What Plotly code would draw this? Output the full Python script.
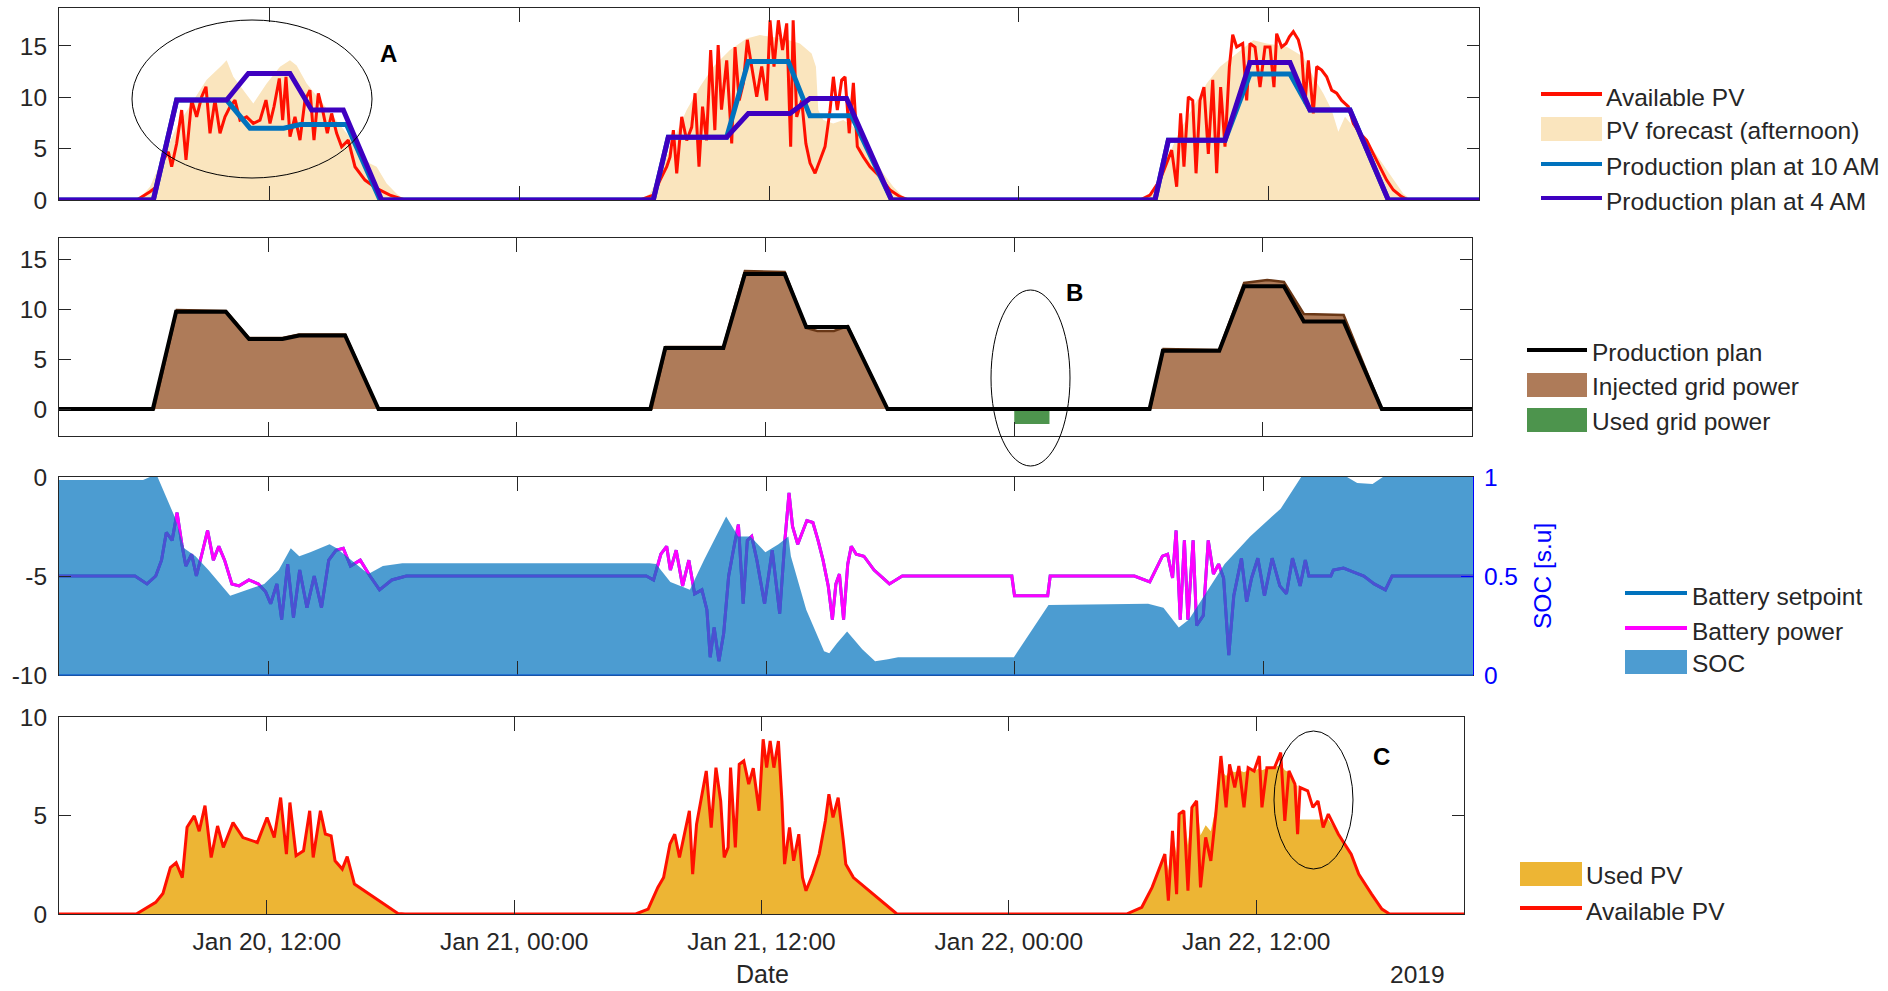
import pandas as pd
import plotly.graph_objects as go

W, H = 1888, 991
BASE = pd.Timestamp("2019-01-20 00:00")


def at(hours):
    return [BASE + pd.Timedelta(hours=h) for h in hours]


def px(x):
    return x / W


def py(y):
    return 1 - y / H


T_START, T_END = 1.917, 70.083
TICK_HOURS = [12, 24, 36, 48, 60]
TICK_TEXT = ["Jan 20, 12:00", "Jan 21, 00:00", "Jan 21, 12:00", "Jan 22, 00:00", "Jan 22, 12:00"]

# ---------------- Panel 1: PV, forecast and production plans ----------------
pv_avail_t = [1.9, 5.65, 6.285, 6.605, 6.925, 7.165, 7.325, 7.565, 7.805, 8.013, 8.285, 8.525,
              8.765, 8.973, 9.165, 9.405, 9.645, 9.885, 10.125, 10.365, 10.605, 10.925, 11.245,
              11.565, 11.853, 12.045, 12.237, 12.493, 12.653, 12.813, 13.005, 13.245, 13.485,
              13.725, 13.965, 14.157, 14.365, 14.605, 14.797, 15.005, 15.245, 15.485, 15.805,
              16.125, 16.605, 17.165, 17.805, 18.525,
              29.81, 30.45, 30.77, 31.09, 31.25, 31.41, 31.57, 31.81, 32.05, 32.29, 32.45, 32.64,
              32.81, 33.0, 33.2, 33.4, 33.56, 33.72, 33.97, 34.21, 34.37, 34.57, 34.77, 34.96,
              35.17, 35.41, 35.65, 35.89, 36.05, 36.24, 36.45, 36.65, 36.85, 37.04, 37.16, 37.33,
              37.57, 37.77, 37.97, 38.21, 38.45, 38.69, 38.93, 39.09, 39.28, 39.49, 39.65, 39.85,
              40.05, 40.24, 40.53, 40.85, 41.33, 41.81, 42.29, 42.69,
              53.81, 54.29, 54.77, 55.09, 55.33, 55.57, 55.76, 55.92, 56.13, 56.34, 56.5, 56.69,
              56.88, 57.09, 57.3, 57.49, 57.68, 57.89, 58.1, 58.26, 58.45, 58.74, 58.93, 59.09,
              59.33, 59.57, 59.81, 60.05, 60.24, 60.37, 60.61, 60.82, 60.98, 61.17, 61.41, 61.57,
              61.73, 61.89, 62.13, 62.29, 62.53, 62.77, 63.01, 63.25, 63.49, 63.81, 64.05, 64.37,
              64.69, 65.01, 65.33, 65.65, 65.97, 66.37, 66.69, 70.1]
pv_avail_v = [0, 0, 0.8, 1.29, 3.9, 4.7, 3.24, 5.5, 8.76, 3.9, 9.73, 8.1,
              10.05, 11.03, 6.5, 9.73, 6.5, 8.1, 9.08, 9.73, 7.78, 8.1, 7.46,
              7.78, 9.73, 7.46, 9.08, 11.84, 7.78, 12.0, 6.16, 8.1, 5.83,
              9.73, 10.7, 5.83, 10.38, 8.43, 6.5, 8.43, 6.5, 5.18, 5.83,
              3.24, 1.94, 1.13, 0.48, 0,
              0, 0.47, 1.94, 3.24, 4.2, 6.8, 2.6, 8.1, 5.8, 7.1, 10.4, 3.24,
              9.1, 5.8, 14.6, 6.8, 15.1, 8.8, 13.6, 5.5, 14.9, 9.7, 11.4, 15.6,
              12.97, 10.05, 13.0, 9.7, 17.5, 13.0, 17.5, 14.6, 17.2, 5.2, 17.5, 8.1,
              9.7, 5.5, 3.6, 2.6, 3.9, 5.2, 8.75, 12.0, 8.75, 11.7, 12.0, 6.5,
              11.4, 5.2, 4.2, 3.24, 2.26, 0.97, 0.32, 0,
              0, 0.47, 1.94, 3.56, 4.86, 1.29, 8.43, 3.24, 10.05, 9.7, 2.6, 9.7,
              11.0, 4.5, 11.7, 2.6, 11.0, 5.2, 13.0, 16.1, 14.9, 15.25, 9.7, 15.25,
              14.9, 11.0, 14.9, 14.9, 11.0, 16.2, 14.9, 15.25, 15.9, 16.4, 15.6, 14.3,
              9.4, 13.6, 8.43, 13.0, 12.65, 12.0, 10.7, 10.4, 9.7, 9.1, 7.45, 6.5,
              5.8, 4.5, 3.24, 1.94, 0.97, 0.32, 0, 0]

pv_forecast_t = [1.9, 5.725, 6.285, 6.925, 7.565, 8.365, 9.005, 9.725, 9.965, 10.285, 10.765,
                 11.245, 11.885, 12.525, 13.005, 13.325, 13.805, 14.445, 15.085, 15.725, 16.365,
                 16.845, 17.165, 17.645, 18.125, 18.525,
                 29.805, 30.285, 30.765, 31.405, 32.045, 32.685, 33.325, 34.125, 34.925, 35.565,
                 36.685, 37.485, 38.045, 38.253, 38.365, 38.605, 39.085, 39.565, 40.045, 40.525,
                 41.005, 41.485, 41.965, 42.365, 42.685,
                 53.97, 54.45, 55.09, 55.73, 56.37, 57.01, 57.65, 58.45, 59.25, 59.89, 60.85,
                 61.65, 62.13, 62.61, 63.01, 63.33, 63.65, 64.05, 64.69, 65.33, 65.97, 66.45,
                 66.85, 70.1]
pv_forecast_v = [0, 0, 1.3, 4.2, 7.1, 9.7, 11.7, 13.1, 13.6, 12.0, 10.7,
                 9.4, 11.35, 12.97, 13.6, 13.1, 11.35, 9.73, 8.1, 6.5, 4.54,
                 3.56, 3.24, 1.6, 0.6, 0,
                 0, 0.6, 2.6, 5.83, 8.76, 11.03, 12.97, 14.6, 15.74, 16.06,
                 15.74, 15.25, 14.27, 12.97, 8.76, 7.78, 7.46, 7.78, 7.13, 5.83,
                 4.21, 2.6, 1.29, 0.48, 0,
                 0, 0.8, 3.9, 6.8, 9.08, 11.35, 12.97, 14.27, 15.57, 15.25, 14.92,
                 13.95, 12.0, 10.38, 8.76, 6.65, 8.1, 7.13, 5.83, 3.9, 1.94, 0.6,
                 0, 0]

plan_4am_t = [1.9, 6.445, 7.565, 9.965, 11.005, 13.005, 14.045, 15.565, 17.405,
              30.445, 31.165, 33.965, 35.005, 37.005, 37.965, 39.725, 41.885,
              54.53, 55.17, 57.89, 59.09, 61.01, 61.97, 63.89, 65.73, 70.1]
plan_4am_v = [0, 0, 9.73, 9.73, 12.33, 12.33, 8.76, 8.76, 0,
              0, 6.1, 6.1, 8.43, 8.43, 9.89, 9.89, 0,
              0, 5.83, 5.83, 13.4, 13.4, 8.76, 8.76, 0, 0]

plan_10am_t = [1.9, 6.445, 7.565, 9.965, 11.085, 12.7, 13.5, 15.72, 17.33,
               30.445, 31.165, 33.965, 35.005, 36.925, 37.965, 39.965, 41.885,
               54.53, 55.17, 57.89, 59.09, 61.01, 61.97, 63.89, 65.73, 70.1]
plan_10am_v = [0, 0, 9.73, 9.73, 7.0, 7.0, 7.35, 7.35, 0,
               0, 6.1, 6.1, 13.5, 13.5, 8.2, 8.2, 0,
               0, 5.83, 5.83, 12.27, 12.27, 8.76, 8.76, 0, 0]

# ---------------- Panel 2: grid exchange ----------------
injected_t = [1.9, 6.5, 7.6, 9.965, 11.085, 12.7, 13.5, 15.72, 17.33,
              30.5, 31.2, 33.965, 35.005, 36.925, 37.965, 38.5, 39.3, 39.965, 41.885,
              54.55, 55.2, 57.89, 59.09, 60.2, 61.01, 61.97, 63.89, 65.73, 70.1]
injected_v = [0, 0, 9.9, 9.8, 7.1, 7.1, 7.45, 7.45, 0,
              0, 6.2, 6.2, 13.8, 13.7, 8.1, 7.8, 7.8, 8.3, 0,
              0, 6.0, 5.9, 12.6, 12.9, 12.7, 9.5, 9.4, 0, 0]

used_grid_t = [48.0, 48.0, 49.7, 49.7]
used_grid_v = [0, -1.5, -1.5, 0]

# ---------------- Panel 3: battery ----------------
bat_power_t = [1.88, 5.58, 6.16, 6.58, 6.86, 7.09, 7.37, 7.61, 7.84, 8.03, 8.31, 8.54, 8.85,
               9.08, 9.36, 9.62, 9.90, 10.25, 10.6, 11.07, 11.53, 11.88, 12.12, 12.42, 12.65,
               12.94, 13.22, 13.52, 13.87, 14.22, 14.57, 14.92, 15.27, 15.62, 15.97, 16.44,
               16.91, 17.37, 17.96, 18.66,
               30.23, 30.58, 30.93, 31.21, 31.39, 31.67, 31.98, 32.28, 32.56, 32.91, 33.15,
               33.31, 33.5, 33.73, 33.96, 34.2, 34.48, 34.67, 34.9, 35.1, 35.31, 35.56, 35.93,
               36.3, 36.66, 36.91, 37.11, 37.28, 37.53, 37.77, 37.97, 38.26, 38.51, 38.75,
               39.0, 39.2, 39.37, 39.54, 39.74, 39.94, 40.11, 40.35, 40.72, 41.21, 41.95,
               42.57, 47.85, 47.98, 49.58, 49.7,
               53.76, 54.5, 55.11, 55.36, 55.6, 55.77, 55.97, 56.17, 56.34, 56.59, 56.76,
               57.08, 57.32, 57.57, 57.82, 58.06, 58.31, 58.55, 58.92, 59.17, 59.41, 59.71,
               60.03, 60.4, 60.77, 61.09, 61.38, 61.75, 62.0, 62.17, 63.23, 63.35, 63.84,
               64.33, 64.82, 65.32, 65.86, 66.18, 70.1]
bat_power_v = [-5.0, -5.0, -5.4, -5.0, -4.2, -2.8, -3.2, -1.8, -3.4, -4.5, -3.9, -5.0, -3.7,
               -2.7, -4.2, -3.5, -4.2, -5.4, -5.5, -5.2, -5.4, -5.8, -6.4, -5.4, -7.2,
               -4.4, -7.1, -4.7, -6.6, -5.0, -6.6, -4.2, -3.7, -3.6, -4.5, -4.2,
               -5.0, -5.7, -5.2, -5.0,
               -5.0, -5.2, -3.9, -3.5, -4.7, -3.7, -5.5, -4.2, -5.9, -5.7, -6.7,
               -9.1, -7.6, -9.3, -7.9, -5.0, -3.4, -2.4, -6.4, -3.2, -3.0, -4.2, -6.4,
               -3.7, -6.9, -3.2, -0.8, -2.5, -3.4, -2.7, -2.2, -2.3, -3.2, -4.2,
               -5.5, -7.2, -5.4, -4.9, -7.2, -4.4, -3.5, -3.9, -4.0, -4.7, -5.4,
               -5.0, -5.0, -6.0, -6.0, -5.0,
               -5.0, -5.3, -4.0, -3.9, -5.1, -2.7, -7.2, -3.2, -7.2, -3.2, -7.5,
               -7.0, -3.2, -4.9, -4.4, -5.1, -9.0, -6.0, -4.1, -6.3, -5.1, -4.1,
               -6.0, -4.1, -5.5, -5.9, -4.1, -5.5, -4.2, -5.0, -5.0, -4.7, -4.6,
               -4.8, -5.0, -5.4, -5.7, -5.0, -5.0]
# the setpoint is tracked exactly by the converter, so it shares the measured samples
bat_setpoint_t = bat_power_t
bat_setpoint_v = bat_power_v

soc_t = [1.85, 5.97, 6.3, 6.67, 7.49, 7.95, 8.5, 9.12, 10.17, 11.81, 12.51, 13.09, 13.5, 14.03,
         14.96, 15.3, 16.83, 17.53, 18.47, 30.38, 30.7, 31.39, 32.33, 33.03, 34.08, 34.66, 35.25,
         35.97, 36.6, 37.08, 37.2, 37.94, 38.8, 39.05, 39.42, 39.91, 40.64, 41.26, 41.88, 42.37,
         47.95, 49.62, 54.42, 55.16, 55.9, 56.39, 58.11, 59.34, 60.81, 61.8, 64.01, 64.5, 65.24,
         65.74, 70.1]
soc_v = [0.985, 0.985, 1.0, 1.0, 0.80, 0.64, 0.60, 0.53, 0.40, 0.46, 0.53, 0.64, 0.60, 0.62,
         0.66, 0.64, 0.51, 0.55, 0.565, 0.565, 0.56, 0.47, 0.43, 0.585, 0.80, 0.70, 0.70,
         0.62, 0.66, 0.70, 0.60, 0.33, 0.12, 0.11, 0.16, 0.22, 0.13, 0.07, 0.08, 0.09,
         0.09, 0.353, 0.36, 0.34, 0.24, 0.28, 0.56, 0.70, 0.84, 1.0, 1.0, 0.97, 0.965,
         1.0, 1.0]

# ---------------- Panel 4: used vs available PV ----------------
pv4_day1_t = [1.9, 5.67, 6.61, 6.96, 7.32, 7.6, 7.9, 8.13, 8.48, 8.72, 9.0, 9.3, 9.61, 9.89,
              10.36, 10.84, 11.54, 12.01, 12.36, 12.67, 12.95, 13.12, 13.42, 13.78, 14.08,
              14.25, 14.6, 14.84, 15.12, 15.31, 15.66, 15.9, 16.25, 16.72, 17.66, 18.36, 18.7]
pv4_day1_v = [0, 0, 0.59, 1.04, 2.36, 2.6, 1.85, 4.4, 4.98, 4.2, 5.5, 2.87, 4.47, 3.38,
              4.64, 3.88, 3.63, 4.9, 3.88, 5.91, 3.04, 5.66, 2.96, 3.21, 5.24,
              2.87, 5.24, 4.06, 3.97, 2.7, 2.28, 2.91, 1.52, 1.18, 0.51, 0.03, 0]
pv4_day2_t = [29.9, 30.5, 30.97, 31.25, 31.56, 31.79, 32.02, 32.5, 32.66, 32.85, 33.32, 33.56,
              33.79, 34.02, 34.19, 34.38, 34.5, 34.73, 34.92, 35.14, 35.38, 35.6, 35.88, 36.08,
              36.25, 36.42, 36.6, 36.82, 36.99, 37.12, 37.36, 37.56, 37.81, 37.99, 38.16, 38.48,
              38.8, 39.1, 39.27, 39.47, 39.72, 39.97, 40.09, 40.46, 40.83, 41.58, 42.57]
pv4_day2_v = [0, 0.25, 1.35, 1.85, 3.55, 4.05, 2.87, 5.24, 2.02, 4.56, 7.26, 4.39,
              7.43, 5.74, 2.87, 3.38, 7.43, 3.38, 7.6, 7.77, 6.59, 7.4, 5.24, 8.87,
              7.43, 8.78, 7.43, 8.78, 5.74, 2.53, 4.39, 2.7, 4.05, 1.85, 1.18, 2.02,
              3.04, 4.73, 6.08, 4.9, 5.91, 3.72, 2.53, 1.85, 1.52, 0.84, 0]
pv4_day3_t = [53.71, 54.45, 54.95, 55.32, 55.57, 55.74, 55.94, 56.14, 56.26, 56.49, 56.69, 56.88,
              57.11, 57.3, 57.55, 57.8, 58.04, 58.29, 58.54, 58.71, 58.96, 59.16, 59.41, 59.61,
              59.9, 60.15, 60.28, 60.52, 60.89, 61.19, 61.39, 61.59, 61.88, 62.01, 62.13, 62.5,
              62.75, 63.0, 63.25, 63.5, 63.99, 64.61, 64.98, 65.6, 66.1, 66.47, 70.1]
pv4_day3_v = [0, 0.34, 1.35, 2.36, 3.04, 0.68, 4.22, 1.01, 5.07, 5.24, 1.18, 5.41,
              5.74, 1.35, 3.89, 2.7, 5.07, 8.02, 5.41, 7.6, 6.42, 7.51, 5.41, 7.43,
              7.26, 8.02, 5.41, 7.43, 7.43, 8.19, 4.73, 7.26, 6.59, 4.05, 6.42, 6.25,
              5.41, 5.74, 4.39, 5.07, 4.05, 3.04, 2.02, 1.01, 0.25, 0, 0]
used_pv_day3_t = [53.71, 54.45, 54.95, 55.32, 55.57, 55.74, 55.94, 56.14, 56.26, 56.49, 56.69,
                  56.88, 57.11, 57.3, 57.55, 57.8, 58.04, 58.29, 58.54, 58.71, 58.96, 59.16,
                  59.41, 59.61, 59.9, 60.15, 60.28, 60.52, 60.89, 61.19, 61.39, 61.59, 61.88,
                  62.0, 62.02, 63.4, 63.5, 63.99, 64.61, 64.98, 65.6, 66.1, 66.47, 70.1]
used_pv_day3_v = [0, 0.34, 1.35, 2.36, 3.04, 2.2, 4.22, 3.0, 5.07, 5.24, 3.5,
                  5.41, 5.74, 4.0, 4.5, 4.2, 5.4, 7.3, 7.0, 7.3, 7.2, 7.3,
                  7.2, 7.3, 7.26, 7.4, 7.3, 7.4, 7.43, 7.6, 7.3, 7.2, 6.59,
                  6.5, 4.8, 4.8, 4.8, 4.05, 3.04, 2.02, 1.01, 0.25, 0, 0]

# ---------------- styling ----------------
AX = "#262626"
FONT = "Liberation Sans, Arial, sans-serif"
RED = "rgb(255,16,0)"
BEIGE = "rgb(250,229,190)"
BLUE = "rgb(0,114,189)"
PURPLE = "rgb(62,0,192)"
BROWN = "rgb(174,123,89)"
BROWN_EDGE = "rgb(105,55,22)"
GREEN = "rgb(77,148,77)"
MAGENTA = "rgb(255,0,255)"
SOC_FILL = "rgba(0,114,189,0.7)"
YELLOW = "rgb(237,181,52)"
SOC_BLUE = "rgb(0,0,255)"
TICK_SIZE = 24.5
TEXT_SIZE = 24.5

# panel boxes in pixels: (left, right, top, bottom)
P1 = (59, 1479, 8, 200)
P2 = (59, 1472, 238, 436)
P3 = (59, 1473, 477, 675)
P4 = (59, 1464, 717, 914)

x_range = [BASE + pd.Timedelta(hours=T_START), BASE + pd.Timedelta(hours=T_END)]
tick_vals = at(TICK_HOURS)

fig = go.Figure()


def line(t, v, color, width, xa, ya):
    fig.add_trace(go.Scatter(x=at(t), y=v, mode="lines", xaxis=xa, yaxis=ya,
                             line=dict(color=color, width=width), hoverinfo="skip"))


def area(t, v, fill, xa, ya, edge=None, edge_w=0):
    fig.add_trace(go.Scatter(x=at(t), y=v, mode="lines", xaxis=xa, yaxis=ya, fill="tozeroy",
                             fillcolor=fill,
                             line=dict(color=edge or fill, width=edge_w), hoverinfo="skip"))


# panel 1
area(pv_forecast_t, pv_forecast_v, BEIGE, "x", "y")
line(pv_avail_t, pv_avail_v, RED, 3, "x", "y")
line(plan_10am_t, plan_10am_v, BLUE, 5, "x", "y")
line(plan_4am_t, plan_4am_v, PURPLE, 5, "x", "y")

# panel 2
area(injected_t, injected_v, BROWN, "x2", "y2", BROWN_EDGE, 2.5)
area(used_grid_t, used_grid_v, GREEN, "x2", "y2")
line(plan_10am_t, plan_10am_v, "black", 4, "x2", "y2")

# panel 3 (lines under the semi-transparent SOC area)
line(bat_setpoint_t, bat_setpoint_v, BLUE, 3, "x3", "y3")
line(bat_power_t, bat_power_v, MAGENTA, 3, "x3", "y3")
area(soc_t, soc_v, SOC_FILL, "x3", "y5")

# panel 4
area(pv4_day1_t + pv4_day2_t + used_pv_day3_t,
     pv4_day1_v + pv4_day2_v + used_pv_day3_v, YELLOW, "x4", "y4")
line(pv4_day1_t + pv4_day2_t + pv4_day3_t, pv4_day1_v + pv4_day2_v + pv4_day3_v, RED, 3,
     "x4", "y4")

tickfont = dict(family=FONT, size=TICK_SIZE, color=AX)


def xaxis(box, anchor, labels=False):
    l, r, t, b = box
    return dict(domain=[px(l), px(r)], anchor=anchor, type="date", range=x_range,
                tickvals=tick_vals, ticktext=TICK_TEXT, showticklabels=labels,
                ticks="inside", ticklen=14, tickwidth=1, tickcolor=AX,
                showline=True, linecolor=AX, linewidth=1, mirror="ticks", automargin=False,
                showgrid=False, zeroline=False, tickfont=tickfont, ticklabelstandoff=6)


def yaxis(box, anchor, rng, vals, mirror="ticks"):
    l, r, t, b = box
    return dict(domain=[py(b), py(t)], anchor=anchor, range=rng, tickvals=vals,
                ticktext=[str(v) for v in vals], ticks="inside", ticklen=12, tickwidth=1,
                tickcolor=AX, showline=True, linecolor=AX, linewidth=1, mirror=mirror,
                automargin=False, showgrid=False, zeroline=False, tickfont=tickfont,
                ticklabelstandoff=6)


layout = dict(
    width=W, height=H, margin=dict(l=0, r=0, t=0, b=0, pad=0, autoexpand=False),
    paper_bgcolor="white", plot_bgcolor="white", showlegend=False,
    xaxis=xaxis(P1, "y"), xaxis2=xaxis(P2, "y2"), xaxis3=xaxis(P3, "y3"),
    xaxis4=xaxis(P4, "y4", labels=True),
    yaxis=yaxis(P1, "x", [0, 18.7], [0, 5, 10, 15]),
    yaxis2=yaxis(P2, "x2", [-2.7, 17.1], [0, 5, 10, 15]),
    yaxis3=yaxis(P3, "x3", [-10, 0], [-10, -5, 0], mirror=False),
    yaxis4=yaxis(P4, "x4", [0, 10], [0, 5, 10]),
    yaxis5=dict(overlaying="y3", anchor="x3", side="right", range=[0, 1],
                tickvals=[0, 0.5, 1], ticktext=["0", "0.5", "1"], ticks="inside", ticklen=12,
                tickcolor=SOC_BLUE, showline=True, linecolor=SOC_BLUE, linewidth=1,
                automargin=False, showgrid=False, zeroline=False, ticklabelstandoff=5,
                tickfont=dict(family=FONT, size=TICK_SIZE, color=SOC_BLUE)),
)
fig.update_layout(**layout)

shapes = []
annotations = []


def text(x, y, s, size=TEXT_SIZE, color="black", xanchor="left", angle=0, yanchor="middle"):
    annotations.append(dict(x=px(x), y=py(y), xref="paper", yref="paper", text=s,
                            showarrow=False, xanchor=xanchor, yanchor=yanchor,
                            textangle=angle, font=dict(family=FONT, size=size, color=color)))


def legend_line(x0, x1, y, color, label, tx):
    shapes.append(dict(type="line", xref="paper", yref="paper", x0=px(x0), x1=px(x1),
                       y0=py(y), y1=py(y), line=dict(color=color, width=4)))
    text(tx, y + 3, label, color=AX)


def legend_patch(x0, x1, y, color, label, tx):
    shapes.append(dict(type="rect", xref="paper", yref="paper", x0=px(x0), x1=px(x1),
                       y0=py(y + 12), y1=py(y - 12), fillcolor=color, line=dict(width=0)))
    text(tx, y + 1, label, color=AX)


# legends
legend_line(1541, 1602, 94, RED, "Available PV", 1604)
legend_patch(1541, 1602, 129, BEIGE, "PV forecast (afternoon)", 1604)
legend_line(1541, 1602, 164, BLUE, "Production plan at 10 AM", 1604)
legend_line(1541, 1602, 198, PURPLE, "Production plan at 4 AM", 1604)

legend_line(1527, 1587, 350, "black", "Production plan", 1590)
legend_patch(1527, 1587, 385, BROWN, "Injected grid power", 1590)
legend_patch(1527, 1587, 420, GREEN, "Used grid power", 1590)

legend_line(1625, 1687, 593, BLUE, "Battery setpoint", 1690)
legend_line(1625, 1687, 628, MAGENTA, "Battery power", 1690)
legend_patch(1625, 1687, 662, "rgb(77,156,209)", "SOC", 1690)

legend_patch(1520, 1582, 874, YELLOW, "Used PV", 1584)
legend_line(1520, 1582, 908, RED, "Available PV", 1584)

# highlighted events
for (x0, x1, y0, y1) in [(132, 372, 20, 178), (991, 1070, 290, 466), (1274, 1353, 731, 869)]:
    shapes.append(dict(type="circle", xref="paper", yref="paper", x0=px(x0), x1=px(x1),
                       y0=py(y1), y1=py(y0), line=dict(color="black", width=1)))
text(388, 53, "<b>A</b>", size=24, xanchor="center")
text(1074, 292, "<b>B</b>", size=24, xanchor="center")
text(1381, 756, "<b>C</b>", size=24, xanchor="center")

# blue base edge of the SOC area
shapes.append(dict(type="line", xref="paper", yref="paper", x0=px(P3[0]), x1=px(P3[1]),
                   y0=py(P3[3]), y1=py(P3[3]), line=dict(color="rgb(20,100,210)", width=1.5)))

# axis titles (anchored on the bottom edge so they stay inside the page)
text(1542, 576, "SOC [s.u]", size=TEXT_SIZE, color=SOC_BLUE, xanchor="center", angle=-90)
text(762, 990, "Date", size=25, color=AX, xanchor="center", yanchor="bottom")
text(1417, 990, "2019", size=TICK_SIZE, color=AX, xanchor="center", yanchor="bottom")

fig.update_layout(shapes=shapes, annotations=annotations)
fig.write_html("out.html", config={"displayModeBar": False})
